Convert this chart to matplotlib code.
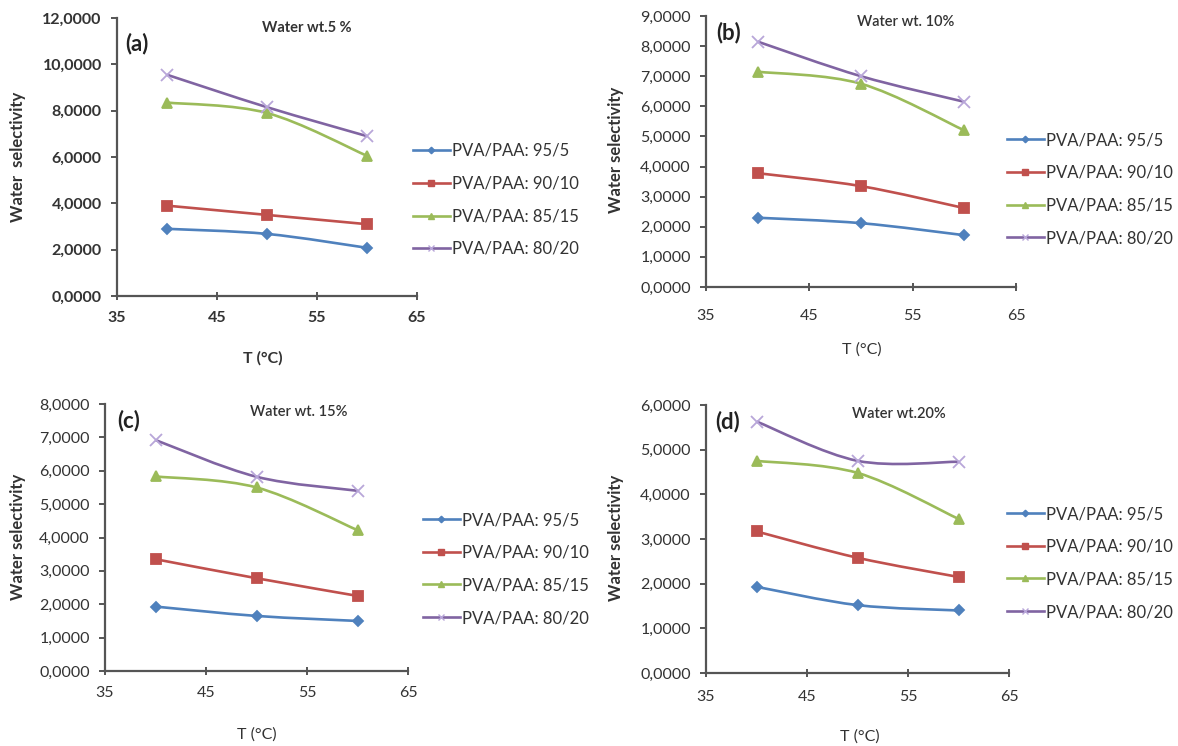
import numpy as np
import matplotlib
matplotlib.use("Agg")
import matplotlib.pyplot as plt
from matplotlib.path import Path
from matplotlib.patches import PathPatch
from matplotlib.lines import Line2D

plt.rcParams['font.family'] = ['Lato', 'DejaVu Sans']

# ---- data ----
temps = [40, 50, 60]
blends = ['PVA/PAA: 95/5', 'PVA/PAA: 90/10', 'PVA/PAA: 85/15', 'PVA/PAA: 80/20']

# (a) water wt. 5 %
sel_a_95 = [2.90, 2.68, 2.08]
sel_a_90 = [3.90, 3.50, 3.10]
sel_a_85 = [8.35, 7.90, 6.05]
sel_a_80 = [9.55, 8.15, 6.90]
# (b) water wt. 10 %
sel_b_95 = [2.30, 2.12, 1.72]
sel_b_90 = [3.78, 3.35, 2.62]
sel_b_85 = [7.15, 6.75, 5.20]
sel_b_80 = [8.15, 7.00, 6.15]
# (c) water wt. 15 %
sel_c_95 = [1.93, 1.65, 1.50]
sel_c_90 = [3.35, 2.78, 2.25]
sel_c_85 = [5.83, 5.50, 4.22]
sel_c_80 = [6.92, 5.82, 5.40]
# (d) water wt. 20 %
sel_d_95 = [1.93, 1.52, 1.40]
sel_d_90 = [3.17, 2.58, 2.15]
sel_d_85 = [4.75, 4.48, 3.45]
sel_d_80 = [5.63, 4.75, 4.73]

titles = ['Water wt.5 %', 'Water wt. 10%', 'Water wt. 15%', 'Water wt.20%']
letters = ['(a)', '(b)', '(c)', '(d)']
y_max = [12, 9, 8, 6]
y_step = [2, 1, 1, 1]
x_ticks = [35, 45, 55, 65]

colors = ['#4F81BD', '#C0504D', '#9BBB59', '#8064A2']
markers = ['D', 's', '^', 'x']
msizes = [5.5, 7.5, 7.5, 8]
mcolors = ['#4F81BD', '#C0504D', '#9BBB59', '#B8A6D9']
txt = '#333333'
spine = '#555555'

W, H = 1178, 746
fig = plt.figure(figsize=(W / 100, H / 100), dpi=100)


def smooth_path(xs, ys):
    # excel style smoothed line, bezier through the data points
    pts = np.column_stack([xs, ys]).astype(float)
    n = len(pts)
    verts = [pts[0]]
    codes = [Path.MOVETO]
    for i in range(n - 1):
        p0 = pts[i - 1] if i > 0 else pts[i]
        p3 = pts[i + 2] if i + 2 < n else pts[i + 1]
        verts += [pts[i] + (pts[i + 1] - p0) / 6, pts[i + 1] - (p3 - pts[i]) / 6, pts[i + 1]]
        codes += [Path.CURVE4] * 3
    return Path(verts, codes)


def px_rect(l, r, t, b):
    return [l / W, 1 - b / H, (r - l) / W, (b - t) / H]


# pixel layout: axes box, legend anchor, label spots, text positions
boxes = [(117, 417, 18, 296), (706, 1016, 16, 287), (105, 408, 404, 671), (706, 1009, 405, 673)]
leg_at = [(413, 200), (1007, 189), (423, 569), (1007, 563)]
ylab_at = [(18, 157), (616, 150), (18, 537), (616, 538)]
xlab_at = [(263, 358), (862, 350), (257, 735), (860, 737)]
title_at = [(54.0, 11.55), (54.3, 8.8), (54.2, 7.75), (54.1, 5.8)]
letter_at = [(35.8, 10.9), (35.95, 8.44), (36.2, 7.5), (35.9, 5.62)]
xpads = [8, 13, 8, 9]

panels = [
    [sel_a_95, sel_a_90, sel_a_85, sel_a_80],
    [sel_b_95, sel_b_90, sel_b_85, sel_b_80],
    [sel_c_95, sel_c_90, sel_c_85, sel_c_80],
    [sel_d_95, sel_d_90, sel_d_85, sel_d_80],
]

for k, series in enumerate(panels):
    bold = 'bold' if k == 0 else 'normal'
    ax = fig.add_axes(px_rect(*boxes[k]))
    for vals, c, m, ms, mc in zip(series, colors, markers, msizes, mcolors):
        ax.add_patch(PathPatch(smooth_path(temps, vals), fill=False, edgecolor=c, lw=1.9))
        ax.plot(temps, vals, linestyle='none', marker=m, ms=ms, color=mc, mec=mc, mew=1.3, zorder=3)
    ax.set_xlim(35, 65)
    ax.set_ylim(0, y_max[k])
    ax.set_xticks(x_ticks)
    yt = np.arange(0, y_max[k] + 0.01, y_step[k])
    ax.set_yticks(yt)
    ax.set_yticklabels([f'{v:.4f}'.replace('.', ',') for v in yt], fontweight=bold)
    ax.set_xticklabels([str(v) for v in x_ticks], fontweight=bold)
    for s in ['top', 'right']:
        ax.spines[s].set_visible(False)
    for s in ['left', 'bottom']:
        ax.spines[s].set_color(spine)
        ax.spines[s].set_linewidth(1.6)
    ax.tick_params(axis='y', direction='out', length=4, width=1.4, color=spine, labelcolor=txt, labelsize=11.5, pad=7)
    ax.tick_params(axis='x', direction='inout', length=6, width=1.4, color=spine, labelcolor=txt, labelsize=11.5, pad=xpads[k])
    ax.patch.set_visible(False)

    ax.text(*title_at[k], titles[k], ha='center', va='center', fontsize=10.5, color=txt, fontweight='bold' if k == 0 else 'semibold')
    ax.text(*letter_at[k], letters[k], ha='left', va='center', fontsize=16, color='#222222', fontweight='bold')

    fig.text(ylab_at[k][0] / W, 1 - ylab_at[k][1] / H, 'Water  selectivity' if k == 0 else 'Water selectivity',
             rotation=90, ha='center', va='center', fontsize=12, color=txt, fontweight='bold')
    fig.text(xlab_at[k][0] / W, 1 - xlab_at[k][1] / H, 'T (°C)', ha='center', va='center',
             fontsize=11.5, color=txt, fontweight=bold)

    handles = [Line2D([], [], color=c, lw=1.9, marker=m, ms=ms * 0.6, mfc=mc, mec=mc)
               for c, m, ms, mc in zip(colors, markers, msizes, mcolors)]
    ax.legend(handles, blends, loc='center left',
              bbox_to_anchor=(leg_at[k][0] / W, 1 - leg_at[k][1] / H), bbox_transform=fig.transFigure,
              frameon=False, fontsize=12, handlelength=2.2, handletextpad=0.15,
              labelspacing=1.0, borderpad=0, borderaxespad=0, labelcolor=txt)

fig.savefig('out.png', dpi=100, facecolor='white')
